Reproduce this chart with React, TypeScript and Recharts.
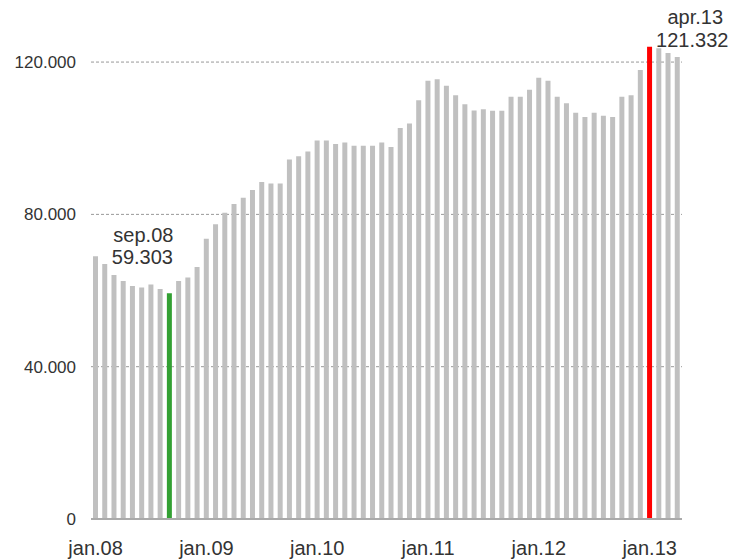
import React from 'react';
import { BarChart, Bar, XAxis, YAxis, CartesianGrid, Cell, LabelList } from 'recharts';

// month abbreviations (Danish) and years shown
const monthNames = ['jan', 'feb', 'mar', 'apr', 'maj', 'jun', 'jul', 'aug', 'sep', 'okt', 'nov', 'dec'];
const years = ['08', '09', '10', '11', '12', '13'];

// monthly values jan.08 .. apr.13
const values = [
  69000, 67000, 64100, 62500, 61200, 60800, 61600, 60400, 59303, 62500, 63400, 66200,
  73600, 77400, 80400, 82700, 84400, 86400, 88500, 88100, 88100, 94400, 95300, 96500,
  99400, 99400, 98500, 98900, 98000, 98000, 98000, 98900, 97700, 102700, 103900, 110000,
  115100, 115500, 113800, 111300, 108900, 107300, 107600, 107200, 107200, 110900, 110900, 112700,
  115900, 115100, 110900, 109200, 106700, 105600, 106700, 105900, 105600, 110900, 111300, 117900,
  124000, 123600, 122400, 121332,
];

const tickLabels = ['jan.08', 'jan.09', 'jan.10', 'jan.11', 'jan.12', 'jan.13'];
const yTicks = [0, 40000, 80000, 120000];
const gridValues = [40000, 80000, 120000];

const lowIndex = 8;
const highIndex = 60;
const lastIndex = values.length - 1;

const months: string[] = [];
years.forEach(y => monthNames.forEach(m => months.push(`${m}.${y}`)));

const data = values.map((value, i) => ({ month: months[i], value }));

const fmt = (v: number) => v.toLocaleString('da-DK');

const fontFamily = '"Liberation Sans", Arial, sans-serif';

const barColor = (i: number) => {
  if (i === lowIndex) return '#33a033';
  if (i === highIndex) return '#ff0000';
  return '#c0c0c0';
};

const renderLabel = (props: any) => {
  const { x, y, width, index, value } = props;
  const cx = x + width / 2;
  const style = { fontSize: 20, fill: '#333', fontFamily };
  if (index === lowIndex) {
    return (
      <g>
        <text x={cx - 26} y={y - 51} textAnchor="middle" {...style}>{data[index].month}</text>
        <text x={cx - 27} y={y - 29} textAnchor="middle" {...style}>{fmt(value)}</text>
      </g>
    );
  }
  if (index === lastIndex) {
    return (
      <g>
        <text x={cx + 18} y={y - 33} textAnchor="middle" {...style}>{data[index].month}</text>
        <text x={cx + 15} y={y - 10} textAnchor="middle" {...style}>{fmt(value)}</text>
      </g>
    );
  }
  return null;
};

const App: React.FC = () => {
  return (
    <div style={{ position: 'absolute', left: 0, top: 0, width: 730, height: 560, background: '#fff' }}>
      <BarChart
        width={730}
        height={560}
        data={data}
        margin={{ top: 24, right: 48, bottom: 0, left: 0 }}
      >
        <CartesianGrid vertical={false} horizontalValues={gridValues} stroke="#999" strokeDasharray="3 2" />
        <XAxis
          dataKey="month"
          ticks={tickLabels}
          interval={0}
          height={41}
          tickLine={false}
          tickSize={0}
          tickMargin={22}
          axisLine={{ stroke: '#aaa', strokeWidth: 2 }}
          tick={{ fontSize: 20, fill: '#333', fontFamily }}
        />
        <YAxis
          width={91}
          domain={[0, 130000]}
          ticks={yTicks}
          interval={0}
          axisLine={false}
          tickLine={false}
          tickSize={0}
          tickMargin={15}
          tickFormatter={fmt}
          tick={{ fontSize: 17, fill: '#333', fontFamily }}
        />
        <Bar dataKey="value" barSize={5} isAnimationActive={false}>
          {data.map((d, i) => (
            <Cell key={d.month} fill={barColor(i)} />
          ))}
          <LabelList dataKey="value" content={renderLabel} />
        </Bar>
      </BarChart>
    </div>
  );
};

export default App;
